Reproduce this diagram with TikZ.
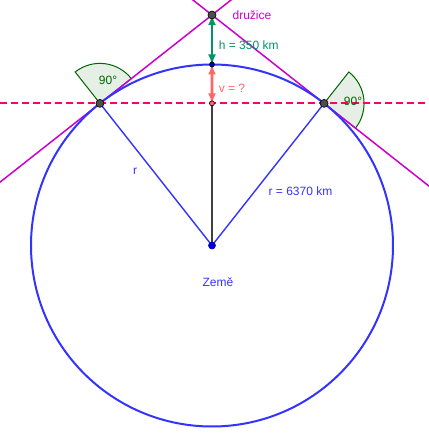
\documentclass[tikz,border=0pt]{standalone}
\usepackage{fontspec}
\setmainfont{Liberation Sans}
\usetikzlibrary{calc,arrows.meta}
\definecolor{modra}{RGB}{51,51,255}
\definecolor{fialova}{RGB}{204,0,204}
\definecolor{prerus}{RGB}{255,0,102}
\definecolor{zelena}{RGB}{0,150,100}
\definecolor{losos}{RGB}{255,102,102}
\definecolor{tmzelena}{RGB}{0,100,0}
\definecolor{sediva}{RGB}{77,77,77}
\begin{document}
\begin{tikzpicture}[x=1pt,y=1pt,
    bod/.style={circle,draw=black,line width=0.6pt,inner sep=0pt,minimum size=#1},
    uhel/.style={draw=tmzelena,fill=tmzelena!10,line width=1pt},
    sipka/.style={line width=2.6pt,{Latex[length=10pt,width=8pt]}-{Latex[length=10pt,width=8pt]}},
    popis/.style={font=\fontsize{12}{14}\selectfont,inner sep=0pt}]
% hranice
                \useasboundingbox (0,0) rectangle (429,440);
                \clip (0,0) rectangle (429,440);
% body
                \coordinate (C) at (212,194.5);
                \coordinate (S) at (212,425);
                \coordinate (T) at (212,375.5);
                \coordinate (A) at ($(C)+(128.26:181)$);
                \coordinate (B) at ($(C)+(51.74:181)$);
                \coordinate (V) at ($(A)!0.5!(B)$);
                \coordinate (L) at (0,336.6);
                \coordinate (P) at (429,336.6);
% pravé úhly
                \draw [uhel] (A) -- ++(38.26:40) arc [start angle=38.26, end angle=128.26, radius=40] -- cycle;
                \draw [uhel] (B) -- ++(-38.26:40) arc [start angle=-38.26, end angle=51.74, radius=40] -- cycle;
% tečny a vodorovná přímka
                \draw [color=prerus, line width=2.2pt, dash pattern=on 7pt off 4pt] (L) -- (P);
                \draw [draw=fialova, line width=1.5pt] ($(S)!-0.3!(A)$) -- ($(S)!2.2!(A)$);
                \draw [draw=fialova, line width=1.5pt] ($(S)!-0.3!(B)$) -- ($(S)!2.2!(B)$);
% Země
                \draw [draw=modra, line width=2pt] (C) circle [radius=181];
                \draw [draw=modra, line width=1.4pt] (A) -- (C) -- (B);
                \draw [draw=black!75, line width=1.4pt] (S) -- (C);
% výšky
                \draw [sipka, draw=zelena, fill=zelena] (S) -- (T);
                \draw [sipka, draw=losos, fill=losos] (T) -- (V);
% tečky
                \node [bod=8pt, fill=sediva] (s) at (S) {};
                \node [bod=8pt, fill=sediva] (a) at (A) {};
                \node [bod=8pt, fill=sediva] (b) at (B) {};
                \node [bod=5pt, fill=blue!80!black] (t) at (T) {};
                \node [bod=5pt, fill=losos] (v) at (V) {};
                \node [bod=7pt, fill=blue!90!black, draw=blue!60!black] (c) at (C) {};
% popisky
                \node [popis, text=fialova] (druzice) at (252,425) {družice};
                \node [popis, text=zelena] (h) at (248.7,395) {h = 350 km};
                \node [popis, text=losos] (vv) at (232,351.7) {v = ?};
                \node [popis, text=tmzelena] (u1) at (108,359.3) {90°};
                \node [popis, text=tmzelena] (u2) at (353,338.3) {90°};
                \node [popis, text=modra] (r1) at (135,269) {r};
                \node [popis, text=modra] (r2) at (300.5,249) {r = 6370 km};
                \node [popis, text=modra] (zeme) at (218,158.3) {Země};
            \end{tikzpicture}
\end{document}
